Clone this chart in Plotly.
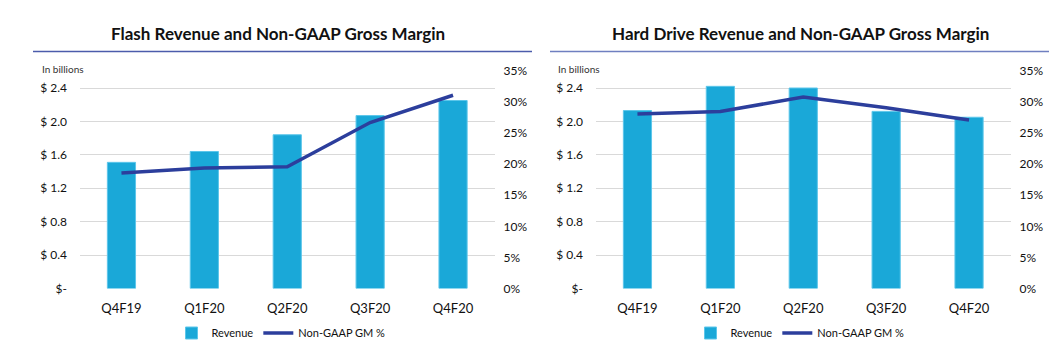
import plotly.graph_objects as go

quarters = ["Q4F19", "Q1F20", "Q2F20", "Q3F20", "Q4F20"]
flash_revenue = [1.51, 1.64, 1.84, 2.07, 2.25]
flash_gm = [18.6, 19.4, 19.6, 26.7, 31.1]
hdd_revenue = [2.13, 2.42, 2.40, 2.12, 2.05]
hdd_gm = [28.1, 28.5, 30.8, 29.1, 27.1]

rev_ticks = [0, 0.4, 0.8, 1.2, 1.6, 2.0, 2.4]
rev_labels = ["$-", "$ 0.4", "$ 0.8", "$ 1.2", "$ 1.6", "$ 2.0", "$ 2.4"]
pct_ticks = [0, 5, 10, 15, 20, 25, 30, 35]
pct_labels = ["0%", "5%", "10%", "15%", "20%", "25%", "30%", "35%"]

titles = ["Flash Revenue and Non-GAAP Gross Margin",
          "Hard Drive Revenue and Non-GAAP Gross Margin"]

BAR = "#1aa8d8"
LINE = "#2c3e9c"
FONT = "Lato"

W, H = 1049, 345
ydom = [(H - 288.5) / H, (H - 71) / H]
rev_top = 2.4 * (288.5 - 71) / (288.5 - 88)
xdoms = [[80 / W, 494.5 / W], [596 / W, 1010.5 / W]]

fig = go.Figure()

for i, (rev, gm) in enumerate([(flash_revenue, flash_gm), (hdd_revenue, hdd_gm)]):
    xa = "x" if i == 0 else "x2"
    ya_l = "y" if i == 0 else "y3"
    ya_r = "y2" if i == 0 else "y4"
    lg = "legend" if i == 0 else "legend2"
    fig.add_trace(go.Bar(x=quarters, y=rev, name="Revenue", marker=dict(color=BAR, line=dict(color="#5cc6ea", width=1)),
                         xaxis=xa, yaxis=ya_l, legend=lg))
    fig.add_trace(go.Scatter(x=quarters, y=gm, name="Non-GAAP GM %", mode="lines",
                             line=dict(color=LINE, width=3.5), xaxis=xa, yaxis=ya_r, legend=lg))

common_x = dict(type="category", showgrid=False, zeroline=False, showline=False, ticks="", automargin=False,
                tickfont=dict(family=FONT, size=13, color="#111111"), ticklabelstandoff=10)
left_y = dict(range=[0, rev_top], tickvals=rev_ticks, ticktext=rev_labels, showgrid=True, automargin=False,
              gridcolor="#d9d9d9", gridwidth=1.3, zeroline=False, showline=False, ticks="",
              tickfont=dict(family=FONT, size=12, color="#111111"), ticklabelstandoff=12, domain=ydom)
right_y = dict(range=[0, 35], tickvals=pct_ticks, ticktext=pct_labels, showgrid=False, automargin=False,
               zeroline=False, showline=False, ticks="", side="right",
               tickfont=dict(family=FONT, size=12, color="#111111"), ticklabelstandoff=8)

fig.update_layout(
    width=W, height=H,
    margin=dict(l=0, r=0, t=0, b=0, autoexpand=False),
    paper_bgcolor="white", plot_bgcolor="white",
    bargap=0.66,
    xaxis=dict(domain=xdoms[0], anchor="y", **common_x),
    yaxis=dict(anchor="x", **left_y),
    yaxis2=dict(anchor="x", overlaying="y", **right_y),
    xaxis2=dict(domain=xdoms[1], anchor="y3", **common_x),
    yaxis3=dict(anchor="x2", **left_y),
    yaxis4=dict(anchor="x2", overlaying="y3", **right_y),
    legend=dict(orientation="h", x=281 / W, y=(H - 333) / H, xanchor="center", yanchor="middle",
                font=dict(family=FONT, size=11, color="#111111"), itemwidth=30, bgcolor="rgba(0,0,0,0)"),
    legend2=dict(orientation="h", x=800 / W, y=(H - 333) / H, xanchor="center", yanchor="middle",
                 font=dict(family=FONT, size=11, color="#111111"), itemwidth=30, bgcolor="rgba(0,0,0,0)"),
    showlegend=True,
)

# titles
for cx, t in zip([278, 800], titles):
    fig.add_annotation(text="<b>" + t + "</b>", x=cx / W, y=(H - 33) / H, xref="paper", yref="paper",
                       showarrow=False, xanchor="center", yanchor="middle",
                       font=dict(family=FONT, size=17, color="#111111"))
# "In billions"
for lx in [40, 556]:
    fig.add_annotation(text="In billions", x=lx / W, y=(H - 69) / H, xref="paper", yref="paper",
                       showarrow=False, xanchor="left", yanchor="middle",
                       font=dict(family=FONT, size=10, color="#333333"))
# title underlines
fig.add_shape(type="line", xref="paper", yref="paper", x0=33 / W, x1=532 / W,
              y0=(H - 51.5) / H, y1=(H - 51.5) / H, line=dict(color="#4b5cab", width=1.5))
fig.add_shape(type="line", xref="paper", yref="paper", x0=550 / W, x1=1049 / W,
              y0=(H - 51.5) / H, y1=(H - 51.5) / H, line=dict(color="#6f7fc0", width=1.5))

fig.write_html("out.html")
